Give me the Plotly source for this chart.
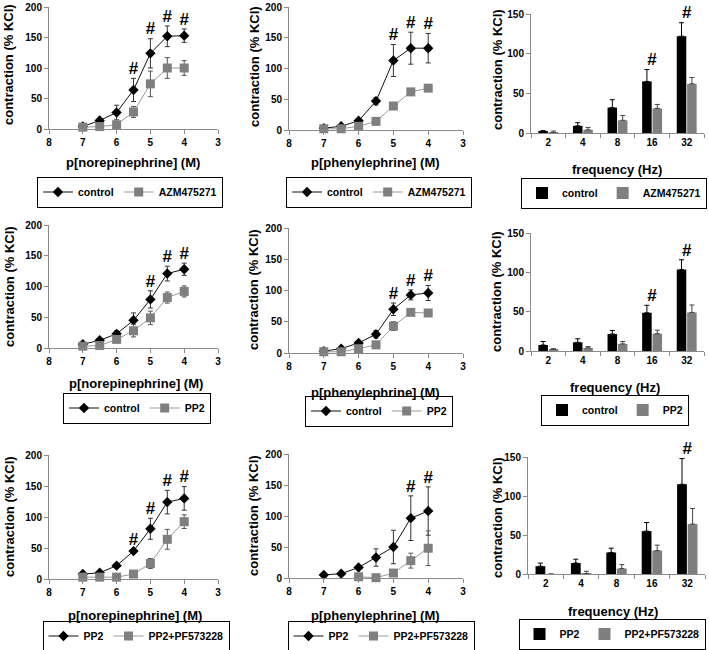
import plotly.graph_objects as go

# ---------------- data ----------------
conc = [7, 6.5, 6, 5.5, 5, 4.5, 4]          # p[agonist] (M)
freq = ["2", "4", "8", "16", "32"]          # EFS frequency (Hz)

# Row 1: control vs AZM475271
ne_ctrl_a = [4, 14, 27, 64, 124, 152, 153]
ne_ctrl_a_err = [3, 3, 12, 19, 24, 17, 11]
ne_azm = [3, 4, 7, 28, 74, 100, 100]
ne_azm_err = [3, 2, 3, 9, 21, 17, 12]
pe_ctrl_a = [3, 6, 15, 47, 113, 133, 133]
pe_ctrl_a_err = [2, 2, 3, 6, 26, 26, 24]
pe_azm = [2, 2, 6, 14, 39, 62, 68]
pe_azm_err = [1, 1, 2, 3, 3, 4, 5]
efs_ctrl_a = [1.5, 9, 32, 65, 122]
efs_ctrl_a_err = [1.5, 4, 10, 15, 17]
efs_azm = [0.5, 4, 16, 31, 62]
efs_azm_err = [2, 3, 6, 5, 8]

# Row 2: control vs PP2
ne_ctrl_p = [6, 12.5, 23, 45, 79, 121, 128]
ne_ctrl_p_err = [2, 3, 5, 12, 14, 12, 10]
ne_pp2 = [3, 4, 14, 28, 49, 82, 92]
ne_pp2_err = [2, 2, 4, 10, 11, 9, 9]
pe_ctrl_p = [3, 7, 16, 30, 70, 93, 96]
pe_ctrl_p_err = [2, 2, 3, 6, 10, 8, 12]
pe_pp2 = [2, 2, 7, 13, 43, 65, 64]
pe_pp2_err = [1, 1, 2, 3, 7, 4, 4]
efs_ctrl_p = [7.6, 11, 21.5, 48.6, 103.5]
efs_ctrl_p_err = [4.5, 4.5, 4.5, 9.5, 12.5]
efs_pp2 = [2, 4, 9, 22, 49]
efs_pp2_err = [1, 1.5, 3, 4.5, 9.5]

# Row 3: PP2 vs PP2+PF573228
ne_pp2b = [8, 10, 21.5, 45, 81, 124, 130]
ne_pp2b_err = [2, 2, 3, 3, 17, 19, 19]
ne_pf = [3, 3, 3, 8, 25, 64, 92.5]
ne_pf_err = [1, 1, 1, 2, 8, 16, 11]
pe_pp2b = [5, 7, 17, 33, 50, 96.5, 108]
pe_pp2b_err = [2, 2, 3, 14, 27, 36, 39]
pe_pf = [None, None, 2, 0.5, 8, 28, 48]
pe_pf_err = [0, 0, 1, 1, 3, 12, 28]
efs_pp2b = [10, 14, 27.6, 55, 115]
efs_pp2b_err = [4, 5, 5.5, 11, 33]
efs_pf = [0, 0.5, 7, 30, 64]
efs_pf_err = [0, 3, 5, 7, 20]

# significance marks (x positions)
hash_ne_a = [5.5, 5, 4.5, 4]
hash_pe_a = [5, 4.5, 4]
hash_efs_a = ["16", "32"]
hash_ne_p = [5, 4.5, 4]
hash_pe_p = [5, 4.5, 4]
hash_efs_p = ["16", "32"]
hash_ne_b = [5.5, 5, 4.5, 4]
hash_pe_b = [4.5, 4]
hash_efs_b = ["32"]

# ---------------- layout helpers ----------------
W, H = 709, 650
def px(x): return x / W
def py(y): return 1 - y / H

FONT = "Liberation Sans, Arial, sans-serif"
AXC = "#8a8a8a"
GRAYM = "#7f7f7f"
GRAYL = "#9a9a9a"

# per-panel geometry: (x0, x1, ytop, ybottom, kind, ytitle_x, ytitle_y, xtitle_x, xtitle_y, legend_cx, legend_cy)
geo = [
    (49, 218, 7, 129, "ne", 9, 65, 133, 163, 130, 192),
    (289, 463, 7, 130, "pe", 254, 67, 376, 163, 379, 192),
    (531, 704, 14, 133, "efs", 497, 70, 617, 170, 614, 193),
    (49, 218, 225, 348, "ne", 9, 287, 136, 383, 137, 408),
    (289, 463, 228, 353, "pe", 253, 290, 376, 392, 379, 411),
    (531, 704, 233, 351, "efs", 496, 292, 615, 387, 615, 410),
    (49, 218, 455, 579, "ne", 9, 517, 135, 615, 136, 636),
    (289, 463, 454, 578, "pe", 253, 516, 376, 615, 381, 636),
    (528, 705, 457, 574, "efs", 497, 518, 613, 611, 612, 634),
]

series = [
    ("control", ne_ctrl_a, ne_ctrl_a_err, "AZM475271", ne_azm, ne_azm_err, hash_ne_a),
    ("control", pe_ctrl_a, pe_ctrl_a_err, "AZM475271", pe_azm, pe_azm_err, hash_pe_a),
    ("control", efs_ctrl_a, efs_ctrl_a_err, "AZM475271", efs_azm, efs_azm_err, hash_efs_a),
    ("control", ne_ctrl_p, ne_ctrl_p_err, "PP2", ne_pp2, ne_pp2_err, hash_ne_p),
    ("control", pe_ctrl_p, pe_ctrl_p_err, "PP2", pe_pp2, pe_pp2_err, hash_pe_p),
    ("control", efs_ctrl_p, efs_ctrl_p_err, "PP2", efs_pp2, efs_pp2_err, hash_efs_p),
    ("PP2", ne_pp2b, ne_pp2b_err, "PP2+PF573228", ne_pf, ne_pf_err, hash_ne_b),
    ("PP2", pe_pp2b, pe_pp2b_err, "PP2+PF573228", pe_pf, pe_pf_err, hash_pe_b),
    ("PP2", efs_pp2b, efs_pp2b_err, "PP2+PF573228", efs_pf, efs_pf_err, hash_efs_b),
]

xtitles = {"ne": "p[norepinephrine] (M)", "pe": "p[phenylephrine] (M)", "efs": "frequency (Hz)"}

fig = go.Figure()
layout = dict(
    width=W, height=H, margin=dict(l=0, r=0, t=0, b=0, autoexpand=False),
    paper_bgcolor="white", plot_bgcolor="white",
    font=dict(family=FONT, size=11, color="black", weight="bold"),
    barmode="group", bargap=0.4, bargroupgap=0.08,
    showlegend=True,
)
annotations = []

for i, (g, s) in enumerate(zip(geo, series), start=1):
    x0, x1, yt, yb, kind, ytx, yty, xtx, xty, lcx, lcy = g
    n1, v1, e1, n2, v2, e2, hashes = s
    sfx = "" if i == 1 else str(i)
    xa, ya = "x" + sfx, "y" + sfx
    lg = "legend" + sfx

    if kind == "efs":
        fig.add_trace(go.Bar(
            x=freq, y=v1, name=n1, marker=dict(color="black", line=dict(width=0)),
            error_y=dict(type="data", symmetric=False, array=e1, arrayminus=[0] * len(e1),
                         color="black", thickness=1, width=2.5),
            xaxis=xa, yaxis=ya, legend=lg))
        fig.add_trace(go.Bar(
            x=freq, y=v2, name=n2, marker=dict(color=GRAYM, line=dict(width=0)),
            error_y=dict(type="data", symmetric=False, array=e2, arrayminus=[0] * len(e2),
                         color="#444", thickness=1, width=2.5),
            xaxis=xa, yaxis=ya, legend=lg))
        xax = dict(type="category", categoryorder="array", categoryarray=freq,
                   tickson="boundaries", range=[-0.5, len(freq) - 0.5])
        yax = dict(range=[0, 150], tickvals=[0, 50, 100, 150])
        xs = freq
    else:
        fig.add_trace(go.Scatter(
            x=conc, y=v1, name=n1, mode="lines+markers", cliponaxis=False,
            marker=dict(symbol="diamond", size=8, color="black"),
            line=dict(color="#111", width=1),
            error_y=dict(type="data", array=e1, color="#333", thickness=1, width=2.5),
            xaxis=xa, yaxis=ya, legend=lg))
        fig.add_trace(go.Scatter(
            x=conc, y=v2, name=n2, mode="lines+markers", cliponaxis=False,
            marker=dict(symbol="square", size=9, color=GRAYM),
            line=dict(color=GRAYL, width=1),
            error_y=dict(type="data", array=e2, color="#555", thickness=1, width=2.5),
            xaxis=xa, yaxis=ya, legend=lg))
        xax = dict(range=[8, 3], tickvals=[8, 7, 6, 5, 4, 3])
        yax = dict(range=[0, 200], tickvals=[0, 50, 100, 150, 200])
        xs = conc

    # significance marks: text trace just above the top of each error bar
    hy = [v1[xs.index(hx)] + e1[xs.index(hx)] for hx in hashes]
    fig.add_trace(go.Scatter(
        x=hashes, y=hy, mode="text", text=["#"] * len(hashes),
        textposition="top center", cliponaxis=False, showlegend=False, hoverinfo="skip",
        textfont=dict(size=17, family=FONT, color="black", weight="bold"),
        xaxis=xa, yaxis=ya, legend=lg))

    common = dict(showline=True, linecolor=AXC, linewidth=1, ticks="outside", ticklen=4,
                  tickcolor=AXC, showgrid=False, zeroline=False, fixedrange=True,
                  automargin=False,
                  tickfont=dict(size=10, family=FONT, color="black", weight="bold"))
    xax.update(common, domain=[px(x0), px(x1)], anchor=ya)
    yax.update(common, domain=[py(yb), py(yt)], anchor=xa)
    layout["xaxis" + sfx] = xax
    layout["yaxis" + sfx] = yax

    layout[lg] = dict(x=px(lcx), y=py(lcy), xanchor="center", yanchor="middle",
                      orientation="h", bordercolor="black", borderwidth=1,
                      bgcolor="white", font=dict(size=10.5, family=FONT, weight="bold"),
                      itemwidth=30, tracegroupgap=0)

    # axis titles
    annotations.append(dict(x=px(ytx), y=py(yty), xref="paper", yref="paper",
                            xanchor="center", yanchor="middle",
                            text="contraction (% KCl)", textangle=-90, showarrow=False,
                            font=dict(size=13, family=FONT, weight="bold")))
    annotations.append(dict(x=px(xtx), y=py(xty), xref="paper", yref="paper",
                            xanchor="center", yanchor="middle",
                            text=xtitles[kind], showarrow=False,
                            font=dict(size=13, family=FONT, weight="bold")))

layout["annotations"] = annotations
fig.update_layout(**layout)
fig.write_html("out.html", config={"displayModeBar": False},
               post_script="document.body.style.margin='0';document.body.style.overflow='hidden';")
